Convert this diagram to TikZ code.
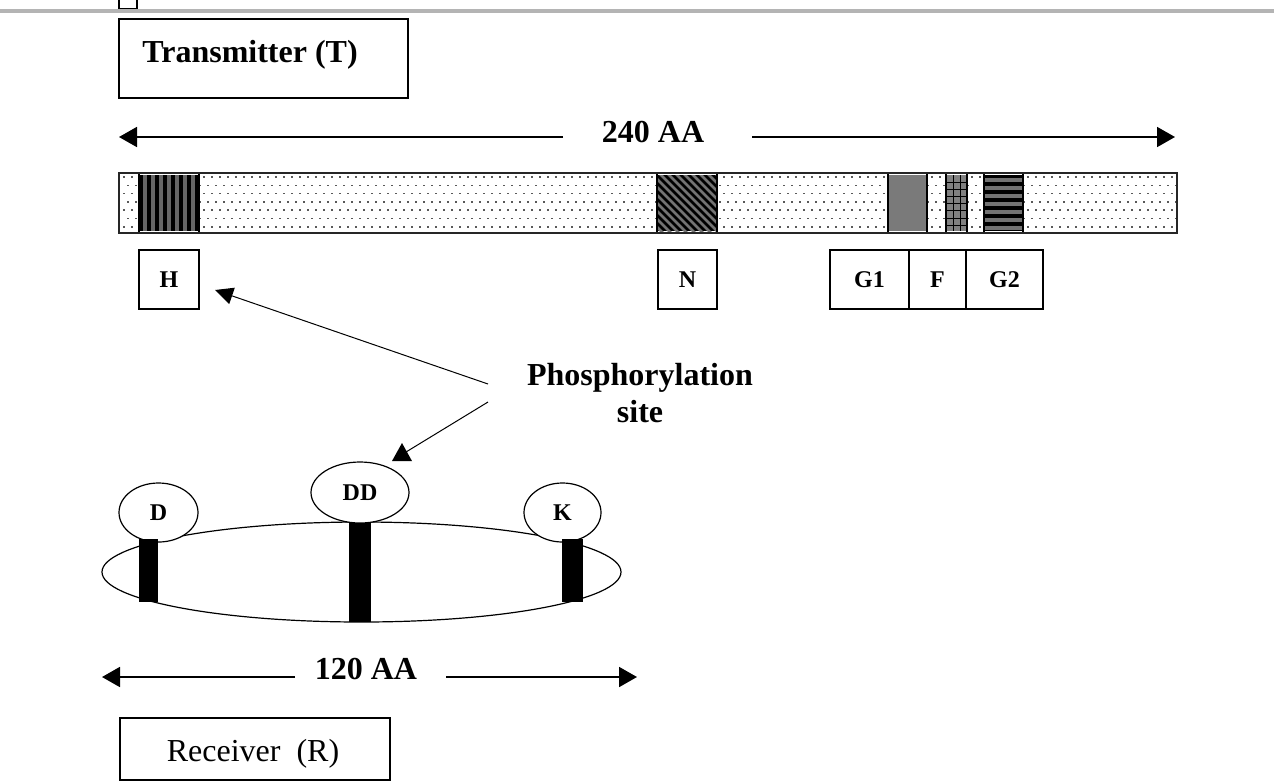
\documentclass[tikz,border=0pt]{standalone}
\usepackage{fontspec}
\setmainfont{Liberation Serif}
\usetikzlibrary{arrows.meta,shapes.geometric}
\definecolor{topgray}{RGB}{180,180,180}
\begin{document}
\begin{tikzpicture}[x=0.5pt,y=-0.5pt,
  box/.style={draw, line width=0.8pt, inner sep=0pt},
  lbl/.style={font=\bfseries\fontsize{12}{14}\selectfont},
  big/.style={font=\bfseries\fontsize{16}{18.5}\selectfont, inner sep=0pt, anchor=base},
  dimarr/.style={line width=0.9pt, -{Triangle[length=9pt,width=10pt]}},
  parr/.style={line width=0.5pt, -{Triangle[length=9pt,width=8.5pt]}},
  oval/.style={draw, ellipse, line width=0.6pt, inner sep=0pt},
  dotc/.style={fill=black!65}
]
\useasboundingbox (0,0) rectangle (1274,783);

% top rule and clipped small box
\draw[line width=0.8pt] (119,-5) rectangle (137,8.5);
\draw[line width=2pt, topgray] (0,10.5) -- (1274,10.5);

% Transmitter
\node[box, minimum width=144.5pt, minimum height=39.5pt] (T) at (263.5,58.5) {};
\node[big] (Tt) at (250,62) {Transmitter (T)};

% 240 AA
\node[big] (a240) at (653,142) {240 AA};
\coordinate (a240l) at (563,137);
\coordinate (a240r) at (752,137);
\coordinate (t240l) at (119,137);
\coordinate (t240r) at (1175,137);
\draw[dimarr] (a240l) -- (t240l);
\draw[dimarr] (a240r) -- (t240r);

% bar with dotted fill
\fill[white] (119,173) rectangle (1177,233);
\begin{scope}
\clip (120,174) rectangle (1176,232);
\foreach \r in {0,...,6} {
  \pgfmathsetmacro\yy{177+8.3*\r}
  \pgfmathsetmacro\xo{124+4*mod(\r,2)}
  \foreach \i in {0,...,131} {
    \pgfmathsetmacro\xx{\xo+8*\i}
    \fill[dotc] (\xx-0.8,\yy-0.8) rectangle ++(1.6,1.6);
  }
}
\end{scope}

% H segment: vertical stripes
\fill[black!60] (139,175) rectangle (199,231);
\foreach \i in {0,...,7} \fill (139+8*\i,175) rectangle ++(4,56);
\draw[line width=0.8pt] (139,173) rectangle (199,233);

% N segment: diagonal stripes
\fill (657,175) rectangle (717,231);
\begin{scope}
\clip (657,175) rectangle (717,231);
\foreach \i in {-9,...,9} \draw[black!55, line width=1.4pt] (657+8*\i,171) -- ++(66,66);
\end{scope}
\draw[line width=0.8pt] (657,173) rectangle (717,233);

% gray block
\fill[black!52] (888,175) rectangle (927,231);
\draw[line width=0.8pt] (888,173) rectangle (927,233);

% grid block
\fill[black!50] (946,175) rectangle (967,231);
\foreach \x in {953,960} \draw[line width=0.5pt] (\x,175) -- (\x,231);
\foreach \y in {182,189,196,203,210.5,218,225.5} \draw[line width=0.5pt] (946,\y) -- (967,\y);
\draw[line width=0.8pt] (946,173) rectangle (967,233);

% horizontal stripes
\fill (984,175) rectangle (1023,231);
\foreach \i in {0,...,6} \fill[black!55] (984,178+8*\i) rectangle ++(39,4);
\draw[line width=0.8pt] (984,173) rectangle (1023,233);

% bar outline
\draw[line width=1pt, black!85] (119,173) rectangle (1177,233);

% domain boxes
\node[box, lbl, minimum width=30pt, minimum height=29.5pt] (H) at (169,279.5) {H};
\node[box, lbl, minimum width=29.5pt, minimum height=29.5pt] (N) at (687.5,279.5) {N};
\node[box, lbl, minimum width=39.5pt, minimum height=29.5pt] (G1) at (869.5,279.5) {G1};
\node[box, lbl, minimum width=28.5pt, minimum height=29.5pt] (F) at (937.5,279.5) {F};
\node[box, lbl, minimum width=38.5pt, minimum height=29.5pt] (G2) at (1004.5,279.5) {G2};

% phosphorylation site
\node[big] (P) at (640,385) {Phosphorylation};
\node[big] (Ps) at (640,422) {site};
\coordinate (p1s) at (488,384);
\coordinate (htip) at (215,290);
\draw[parr] (p1s) -- (htip);
\coordinate (p2s) at (488,402);
\coordinate (ddtip) at (406,452);
\draw[line width=0.5pt] (p2s) -- (ddtip);
\fill (402,443) -- (392,461) -- (412,461) -- cycle;

% receiver ellipses
\node[oval, minimum width=259.5pt, minimum height=50pt] (Rell) at (361.5,572) {};
\node[oval, lbl, fill=white, minimum width=39.5pt, minimum height=29.5pt] (D) at (158.5,512.5) {D};
\node[oval, lbl, fill=white, minimum width=49pt, minimum height=30.5pt] (DD) at (360,492.5) {DD};
\node[oval, lbl, fill=white, minimum width=38.5pt, minimum height=29.5pt] (K) at (562.5,512.5) {K};
\fill (139,539) rectangle (158,602);
\fill (349,523) rectangle (371,622);
\fill (562,539) rectangle (583,602);

% 120 AA
\node[big] (a120) at (366,679) {120 AA};
\coordinate (a120l) at (295,677);
\coordinate (a120r) at (446,677);
\coordinate (t120l) at (102,677);
\coordinate (t120r) at (637,677);
\draw[dimarr] (a120l) -- (t120l);
\draw[dimarr] (a120r) -- (t120r);

% Receiver
\node[box, minimum width=135pt, minimum height=31pt] (Rb) at (255,749) {};
\node[font=\fontsize{16}{18.5}\selectfont, inner sep=0pt, anchor=base] (Rt) at (253,761) {Receiver\ \ (R)};
\end{tikzpicture}
\end{document}
